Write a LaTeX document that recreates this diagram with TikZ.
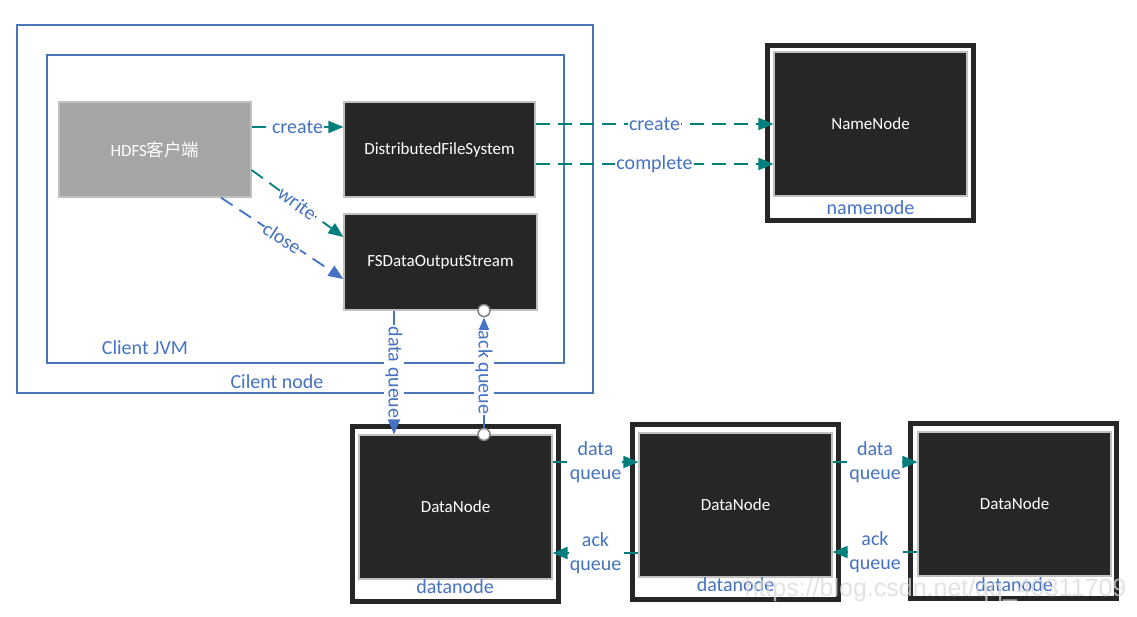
\documentclass[tikz,border=0pt]{standalone}
\usepackage{fontspec}
\setmainfont{Carlito}
\newfontfamily\cjk{Noto Sans CJK SC}
\newfontfamily\wmfont{Liberation Sans}
\usetikzlibrary{arrows.meta}
\definecolor{tealc}{HTML}{00807C}
\definecolor{bluet}{HTML}{4472C4}
\definecolor{boxline}{HTML}{4A76B8}
\definecolor{darkf}{HTML}{262626}
\definecolor{grayf}{HTML}{A5A5A5}
\definecolor{lgray}{HTML}{C0C0C0}
\begin{document}
\begin{tikzpicture}[x=1pt,y=-1pt,
  container/.style={draw=boxline, line width=1.2pt, inner sep=0},
  dbox/.style={draw=lgray, fill=darkf, line width=1.2pt, text=white, inner sep=0,
    font=\fontsize{17}{19}\selectfont},
  gbox/.style={dbox, fill=grayf},
  inbox/.style={dbox, minimum width=193pt, minimum height=144pt},
  frame/.style={draw=darkf, line width=5pt, fill=white, inner sep=0,
    minimum width=206pt, minimum height=175pt},
  lbl/.style={text=bluet, font=\fontsize{20}{24}\selectfont, inner sep=1pt},
  onl/.style={lbl, fill=white, align=center},
  tarrow/.style={draw=tealc, line width=1.8pt, dash pattern=on 14pt off 8pt,
    -{Triangle[length=15pt,width=12pt]}},
  barrow/.style={tarrow, draw=bluet},
  circ/.style={circle, draw=gray, fill=white, line width=1.5pt, minimum size=12pt, inner sep=0},
]
\path[use as bounding box, fill=white] (0,0) rectangle (1137,616);

% containers
\node[container, minimum width=576pt, minimum height=368pt] (cnode) at (305,209) {};
\node[container, minimum width=517pt, minimum height=308pt] (jvm) at (305.5,209) {};
\node[lbl] (cnodel) at (277,382) {Cilent node};
\node[lbl] (jvml) at (145,348) {Client JVM};

% client boxes
\node[gbox, minimum width=192pt, minimum height=95pt] (hdfs) at (155,149.5) {HDFS{\cjk\fontsize{17.5}{19}\selectfont 客户端}};
\node[dbox, minimum width=191pt, minimum height=95pt] (dfs) at (439.5,149.5) {DistributedFileSystem};
\node[dbox, minimum width=193pt, minimum height=96pt] (fsd) at (440.5,262) {FSDataOutputStream};

% namenode
\node[frame] (nnf) at (870.5,133) {};
\node[inbox] (nn) at (870.5,124) {NameNode};
\node[lbl] (nnl) at (870.5,208) {namenode};

% datanodes
\node[frame] (dn1f) at (455,514) {};
\node[inbox] (dn1) at (455.5,507) {DataNode};
\node[lbl] (dn1l) at (455,587) {datanode};
\node[frame] (dn2f) at (735.5,512) {};
\node[inbox] (dn2) at (735.5,505) {DataNode};
\node[lbl] (dn2l) at (735.5,585) {datanode};
\node[frame] (dn3f) at (1013.5,511) {};
\node[inbox] (dn3) at (1014.5,504) {DataNode};
\node[lbl] (dn3l) at (1014,585) {datanode};

% client arrows
\draw[tarrow] ([yshift=22.5pt]hdfs.east) -- ([yshift=22.5pt]hdfs.east -| dfs.west)
  node[onl, midway] {create};
\draw[tarrow] ([yshift=-20.5pt]hdfs.east) -- ([yshift=25pt]fsd.west)
  node[onl, midway, sloped, inner sep=0.5pt] {write};
\draw[barrow] ([xshift=66pt]hdfs.south) -- ([yshift=-17pt]fsd.west)
  node[onl, midway, sloped, inner sep=0.5pt] {close};

% to namenode
\draw[tarrow] ([yshift=25.5pt]dfs.east) -- ([yshift=25.5pt]dfs.east -| nn.west)
  node[onl, midway] {create};
\draw[tarrow] ([yshift=-14.5pt]dfs.east) -- ([yshift=-14.5pt]dfs.east -| nn.west)
  node[onl, midway] {complete};

% queues
\draw[barrow] ([xshift=-46.5pt]fsd.south) -- ([xshift=-46.5pt]fsd.south |- dn1.north)
  node[onl, midway, rotate=-90] {data queue};
\node[circ] (c1) at ([xshift=43.5pt]fsd.south) {};
\node[circ] (c2) at ([xshift=43.5pt]fsd.south |- dn1.north) {};
\draw[barrow] (c2) -- (c1) node[onl, midway, rotate=-90] {ack queue};

% datanode pipeline
\draw[tarrow] ([yshift=45pt]dn1.east) -- ([yshift=45pt]dn1.east -| dn2.west)
  node[onl, midway] {data\\queue};
\draw[tarrow] ([yshift=-48pt]dn2.west) -- ([yshift=-48pt]dn2.west -| dn1.east)
  node[onl, midway] {ack\\queue};
\draw[tarrow] ([yshift=43pt]dn2.east) -- ([yshift=43pt]dn2.east -| dn3.west)
  node[onl, midway] {data\\queue};
\draw[tarrow] ([yshift=-48pt]dn3.west) -- ([yshift=-48pt]dn3.west -| dn2.east)
  node[onl, midway] {ack\\queue};

% watermark
\node[text=gray!30, opacity=0.75, font=\wmfont\fontsize{25}{28}\selectfont, inner sep=0] (wm) at (935.5,590) {https://blog.csdn.net/qq\_40311709};
\end{tikzpicture}
\end{document}
